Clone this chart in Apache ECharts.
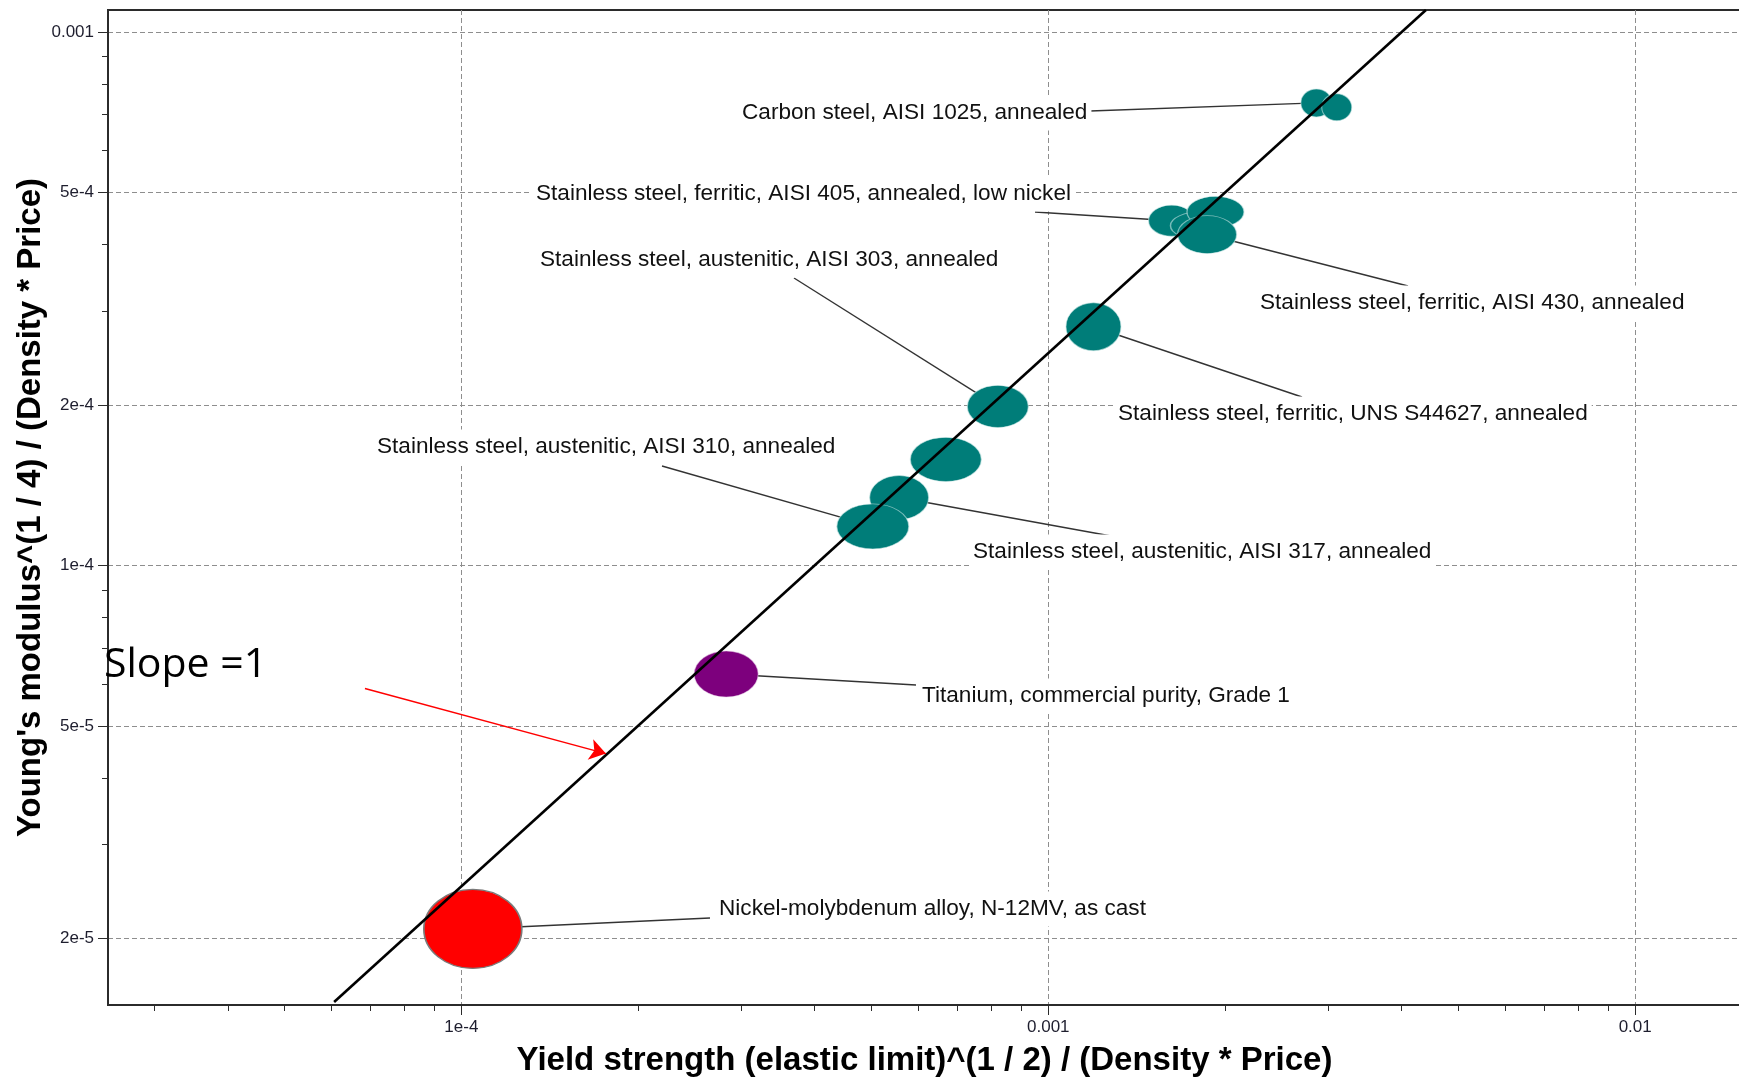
<!DOCTYPE html>
<html><head><meta charset="utf-8">
<script src="https://cdn.jsdelivr.net/npm/echarts@6/dist/echarts.min.js"></script>
<style>html,body{margin:0;padding:0;background:#fff}#c{width:1739px;height:1081px}</style>
</head><body><div id="c"></div>
<script>
// ---------- data ----------
const materials = [
  'Carbon steel, AISI 1025, annealed',
  '',
  'Stainless steel, ferritic, AISI 405, annealed, low nickel',
  '',
  '',
  'Stainless steel, ferritic, AISI 430, annealed',
  'Stainless steel, ferritic, UNS S44627, annealed',
  'Stainless steel, austenitic, AISI 303, annealed',
  '',
  'Stainless steel, austenitic, AISI 317, annealed',
  'Stainless steel, austenitic, AISI 310, annealed',
  'Titanium, commercial purity, Grade 1',
  'Nickel-molybdenum alloy, N-12MV, as cast'
];
const yieldIndex   = [2.863e-3, 3.101e-3, 1.622e-3, 1.824e-3, 1.927e-3, 1.865e-3, 1.194e-3, 8.204e-4, 6.69e-4, 5.57e-4, 5.024e-4, 2.826e-4, 1.046e-4];
const modulusIndex = [7.366e-4, 7.23e-4, 4.43e-4, 4.336e-4, 4.60e-4, 4.173e-4, 2.803e-4, 1.987e-4, 1.581e-4, 1.341e-4, 1.184e-4, 6.26e-5, 2.083e-5];
const families     = ['steel','steel','steel','steel','steel','steel','steel','steel','steel','steel','steel','titanium','nickel'];

const slopeLineX = [6.07e-5, 4.4e-3];
const slopeLineY = [1.52e-5, 1.1e-3];
const arrowFrom  = [6.85e-5, 5.88e-5];
const arrowTo    = [1.763e-4, 4.44e-5];

const xTickValues = [1e-4, 1e-3, 1e-2];
const xTickLabels = ['1e-4', '0.001', '0.01'];
const xMinorTicks = [3e-5,4e-5,5e-5,6e-5,7e-5,8e-5,9e-5,2e-4,3e-4,4e-4,5e-4,6e-4,7e-4,8e-4,9e-4,2e-3,3e-3,4e-3,5e-3,6e-3,7e-3,8e-3,9e-3];
const yTickValues = [2e-5, 5e-5, 1e-4, 2e-4, 5e-4, 1e-3];
const yTickLabels = ['2e-5', '5e-5', '1e-4', '2e-4', '5e-4', '0.001'];
const yMinorTicks = [2e-5,3e-5,4e-5,5e-5,6e-5,7e-5,8e-5,9e-5,1e-4,2e-4,3e-4,4e-4,5e-4,6e-4,7e-4,8e-4,9e-4,1e-3];

const xTitle = 'Yield strength (elastic limit)^(1 / 2) / (Density * Price)';
const yTitle = "Young's modulus^(1 / 4) / (Density * Price)";
const slopeText = 'Slope =1';

// ---------- styles / layout (pixels) ----------
const X_MIN = 2.5e-5, X_MAX = 0.016, Y_MIN = 1.5e-5, Y_MAX = 1.1e-3;
const familyColor = {steel:'#007d79', titanium:'#7d007d', nickel:'#ff0000'};
const familyBorder = {steel:'rgba(200,230,228,0.6)', titanium:'rgba(230,200,230,0.5)', nickel:'#7a7a7a'};
const bubbleW = [31, 30, 46, 62, 57, 59, 55, 61, 71, 59, 72, 64, 98];
const bubbleH = [28, 27, 31, 28, 31, 38, 48, 42, 44, 44, 45, 46, 79];
const labelX  = [738, null, 532, null, null, 1256, 1114, 536, null, 969, 373, 918, 715];
const labelY  = [113, null, 194, null, null, 303, 414, 260, null, 552, 447, 696, 909];
const leaderX = [1090, null, 1035, null, null, 1408, 1302, 794, null, 1111, 662, 916, 710];
const leaderY = [111, null, 212, null, null, 286, 397, 278, null, 536, 466, 685, 918];

const FONT = "'Liberation Sans', Arial, sans-serif";
const AX = '#2b2b2b';

function labelFmt(values, labels) {
  return function (v) {
    let best = -1, bd = 1e9;
    for (let i = 0; i < values.length; i++) {
      const d = Math.abs(Math.log10(v) - Math.log10(values[i]));
      if (d < bd) { bd = d; best = i; }
    }
    return bd < 0.01 ? labels[best] : '';
  };
}
const gridLine = {show: true, lineStyle: {color: '#8e8e8e', width: 1, type: [5, 3]}};

const bubbleData = materials.map((m, i) => ({
  name: m,
  value: [yieldIndex[i], modulusIndex[i]],
  symbolSize: [bubbleW[i], bubbleH[i]],
  itemStyle: {color: familyColor[families[i]], opacity: 1, borderColor: familyBorder[families[i]],
              borderWidth: families[i] === 'nickel' ? 1.5 : 1},
  label: {show: !!m}
}));

const leaderData = [];
materials.forEach((m, i) => {
  if (m && leaderX[i] != null) {
    leaderData.push([{coord: [yieldIndex[i], modulusIndex[i]]}, {x: leaderX[i], y: leaderY[i]}]);
  }
});

const chart = echarts.init(document.getElementById('c'), null, {renderer: 'canvas'});
const option = {
  animation: false,
  backgroundColor: '#fff',
  textStyle: {fontFamily: FONT},
  grid: {left: 108, top: 10, right: -16, bottom: 76, show: true, borderColor: AX, borderWidth: 2,
         containLabel: false, outerBoundsMode: 'none'},
  xAxis: [
    {type: 'log', min: X_MIN, max: X_MAX, position: 'bottom',
     name: xTitle, nameLocation: 'middle', nameGap: 39, nameMoveOverlap: false,
     nameTextStyle: {fontSize: 33, fontWeight: 'bold', color: '#000', fontFamily: FONT, padding: [0, 14, 0, 0]},
     axisLine: {show: true, onZero: false, lineStyle: {color: AX, width: 2}},
     axisTick: {show: true, customValues: xTickValues, length: 10, lineStyle: {color: AX, width: 1}},
     axisLabel: {show: true, customValues: xTickValues, formatter: labelFmt(xTickValues, xTickLabels),
                 fontSize: 17, color: '#1e1e2e', margin: 14, fontFamily: FONT},
     splitLine: gridLine, minorTick: {show: false}, minorSplitLine: {show: false}},
    {type: 'log', min: X_MIN, max: X_MAX, position: 'bottom',
     axisLine: {show: false, onZero: false},
     axisTick: {show: true, customValues: xMinorTicks, length: 6, lineStyle: {color: AX, width: 1}},
     axisLabel: {show: false}, splitLine: {show: false}}
  ],
  yAxis: [
    {type: 'log', min: Y_MIN, max: Y_MAX, position: 'left',
     name: yTitle, nameLocation: 'middle', nameGap: 61, nameRotate: 90, nameMoveOverlap: false,
     nameTextStyle: {fontSize: 33, fontWeight: 'bold', color: '#000', fontFamily: FONT},
     axisLine: {show: true, onZero: false, lineStyle: {color: AX, width: 2}},
     axisTick: {show: true, customValues: yTickValues, length: 10, lineStyle: {color: AX, width: 1}},
     axisLabel: {show: true, customValues: yTickValues, formatter: labelFmt(yTickValues, yTickLabels),
                 fontSize: 17, color: '#1e1e2e', margin: 14, fontFamily: FONT},
     splitLine: gridLine},
    {type: 'log', min: Y_MIN, max: Y_MAX, position: 'left',
     axisLine: {show: false, onZero: false},
     axisTick: {show: true, customValues: yMinorTicks, length: 6, lineStyle: {color: AX, width: 1}},
     axisLabel: {show: false}, splitLine: {show: false}}
  ],
  series: [
    {type: 'scatter', xAxisIndex: 0, yAxisIndex: 0, z: 3, symbol: 'circle',
     data: bubbleData,
     emphasis: {disabled: true},
     label: {show: true, formatter: '{b}', fontSize: 22.6, color: '#111', fontFamily: FONT,
             backgroundColor: '#fff', padding: [6, 4]},
     labelLayout: function (p) {
       const i = p.dataIndex;
       if (labelX[i] == null) return {};
       return {x: labelX[i], y: labelY[i], align: 'left', verticalAlign: 'middle'};
     },
     markLine: {silent: true, z: 1, symbol: 'none', animation: false,
                label: {show: false}, emphasis: {disabled: true},
                lineStyle: {color: '#333', width: 1.4, type: 'solid', opacity: 1},
                data: leaderData}
    },
    {type: 'line', xAxisIndex: 0, yAxisIndex: 0, z: 4, symbol: 'none', clip: true,
     data: slopeLineX.map((x, i) => [x, slopeLineY[i]]),
     lineStyle: {color: '#000', width: 2.6},
     emphasis: {disabled: true},
     markLine: {silent: true, z: 5, symbol: ['none', 'arrow'], symbolSize: 16, animation: false,
                label: {show: false}, emphasis: {disabled: true},
                lineStyle: {color: '#ff0000', width: 1.5, type: 'solid', opacity: 1},
                data: [[{coord: arrowFrom}, {coord: arrowTo}]]}
    }
  ],
  graphic: [
    {type: 'text', x: 104, y: 665, z: 10,
     style: {text: slopeText, fontFamily: "'Open Sans', sans-serif", fontSize: 41, fill: '#000',
             align: 'left', verticalAlign: 'middle'}}
  ]
};
chart.setOption(option);
</script>
</body></html>
